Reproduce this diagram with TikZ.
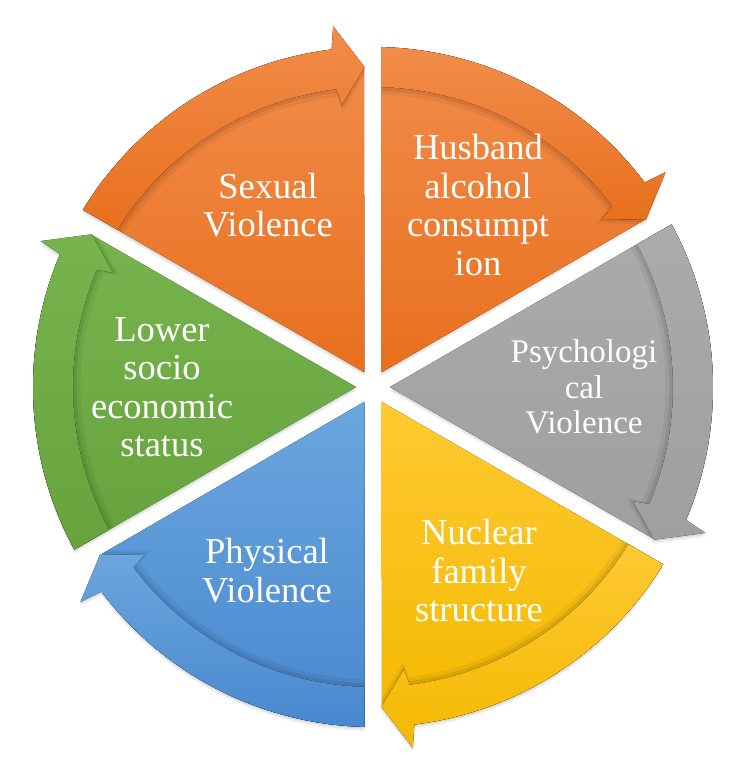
\documentclass[tikz,border=0pt]{standalone}
\usepackage{fontspec}
\setmainfont{Liberation Serif}
\usepackage{tikz}
\definecolor{orangetop}{HTML}{F28C4A}
\definecolor{orangebot}{HTML}{E8701E}
\definecolor{greytop}{HTML}{ABABAB}
\definecolor{greybot}{HTML}{9F9F9F}
\definecolor{yellowtop}{HTML}{FFC933}
\definecolor{yellowbot}{HTML}{F4B900}
\definecolor{bluetop}{HTML}{6BA6DE}
\definecolor{bluebot}{HTML}{4888CF}
\definecolor{greentop}{HTML}{78B44E}
\definecolor{greenbot}{HTML}{66A33C}
\tikzset{parttext/.style={text=white, align=center, font=\fontsize{36.5}{38.5}\selectfont},
    smalltext/.style={parttext, font=\fontsize{33}{35.5}\selectfont}}

% soft shadow under one segment, #1 = middle angle
\newcommand{\cycleshadow}[1]{%
  \pgfmathsetmacro\cpS{#1+30}\pgfmathsetmacro\cpE{#1-30}%
  \foreach \dy/\op in {1.5/0.07, 3/0.05, 4.5/0.04}{
    \fill[black, opacity=\op, yshift=-\dy pt] (#1:17pt) -- (\cpS-1.43:340pt)
      arc[start angle=\cpS-1.43, end angle=\cpE+7, radius=340pt]
      -- (\cpE+6.3:363pt) -- (\cpE+1.5:320pt) -- (\cpE+1.9:310pt) -- cycle;
  }}

% wedge with curved arrow on its rim, #1 = middle angle, #2/#3 = colours
\newcommand{\cyclepart}[3]{%
  \pgfmathsetmacro\cpS{#1+30}\pgfmathsetmacro\cpE{#1-30}%
  \fill[top color=#2, bottom color=#3] (#1:17pt) -- (\cpS-1.43:340pt)
    arc[start angle=\cpS-1.43, end angle=\cpE+7, radius=340pt]
    -- (\cpE+1.6:320pt) -- cycle;
  \foreach \sc/\op in {0.975/0.05, 0.988/0.08}{
    \fill[black, opacity=\op, scale=\sc] (\cpS-1.43:340pt) -- (\cpS-1.62:300pt)
      arc[start angle=\cpS-1.62, end angle=\cpE+7, radius=300pt]
      -- (\cpE+6.3:284pt) -- (\cpE+1.5:320pt) -- (\cpE+6.3:363pt) -- (\cpE+7:340pt)
      arc[start angle=\cpE+7, end angle=\cpS-1.43, radius=340pt] -- cycle;
  }
  \fill[top color=#2, bottom color=#3] (\cpS-1.43:340pt) -- (\cpS-1.62:300pt)
    arc[start angle=\cpS-1.62, end angle=\cpE+7, radius=300pt]
    -- (\cpE+6.3:284pt) -- (\cpE+1.5:320pt) -- (\cpE+6.3:363pt) -- (\cpE+7:340pt)
    arc[start angle=\cpE+7, end angle=\cpS-1.43, radius=340pt] -- cycle;}

\begin{document}
\begin{tikzpicture}
    \useasboundingbox (-373pt,-397pt) rectangle (377pt,387pt);

    \foreach \a in {120, 60, 0, -60, -120, 180}{\cycleshadow{\a}}

    \cyclepart{120}{orangetop}{orangebot}
    \cyclepart{60}{orangetop}{orangebot}
    \cyclepart{0}{greytop}{greybot}
    \cyclepart{-60}{yellowtop}{yellowbot}
    \cyclepart{-120}{bluetop}{bluebot}
    \cyclepart{180}{greentop}{greenbot}

    \node[parttext] (sexual) at (120:210pt) {Sexual\\Violence};
    \node[parttext] (husband) at (60:210pt) {Husband\\alcohol\\consumpt\\ion};
    \node[smalltext] (psych) at (0:211pt) {Psychologi\\cal\\Violence};
    \node[parttext] (nuclear) at (-60:212pt) {Nuclear\\family\\structure};
    \node[parttext] (physical) at (-120:212pt) {Physical\\Violence};
    \node[parttext] (lower) at (180:211pt) {Lower\\socio\\economic\\status};
\end{tikzpicture}
\end{document}
